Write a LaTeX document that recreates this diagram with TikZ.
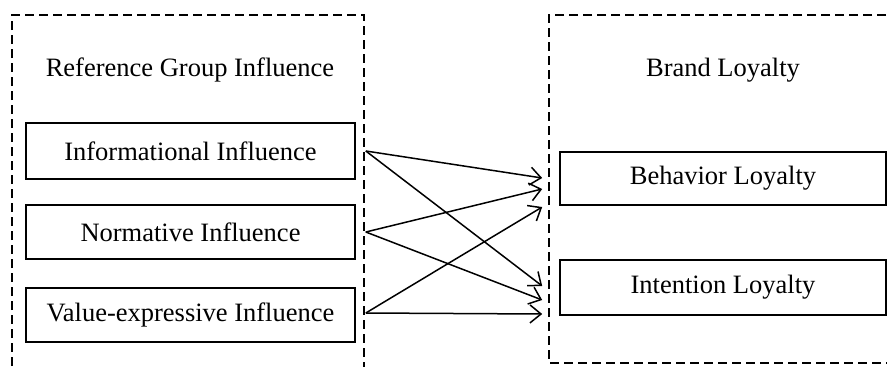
\documentclass[tikz,border=0pt]{standalone}
\usepackage{fontspec}
\setmainfont{Liberation Serif}
\usetikzlibrary{arrows.meta}
\begin{document}
\begin{tikzpicture}[x=1pt,y=-1pt,
  every node/.style={font=\fontsize{26.5}{30}\selectfont, text=black},
  factor/.style={draw, line width=1.6pt, inner sep=0pt},
  groupline/.style={line width=1.5pt, dash pattern=on 9pt off 5pt},
  link/.style={line width=1.5pt, -{Straight Barb[length=11pt,width=18pt,line width=1.5pt]}}]
  \useasboundingbox (0,0) rectangle (887,367);
  \clip (0,0) rectangle (887,367);

  % dashed group frames
  \draw[groupline] (12,380) -- (12,15) -- (364,15) -- (364,380);
  \draw[groupline] (900,15) -- (549,15) -- (549,363) -- (900,363);

  % group titles
  \node (rgi) at (190,70) {Reference Group Influence};
  \node (bl) at (723,70) {Brand Loyalty};

  % dimensions
  \node[factor, minimum width=329pt, minimum height=56pt] (info) at (190.5,151) {Informational Influence};
  \node[factor, minimum width=329pt, minimum height=54pt] (norm) at (190.5,232) {Normative Influence};
  \node[factor, minimum width=329pt, minimum height=54pt] (val) at (190.5,315) {Value-expressive Influence};
  \node[factor, minimum width=326pt, minimum height=53pt] (beh) at (723,178.5) {Behavior Loyalty};
  \node[factor, minimum width=326pt, minimum height=55pt] (int) at (723,287.5) {Intention Loyalty};

  % paths between dimensions (yshift is in page units: negative moves down)
  \draw[link] ([xshift=10pt]info.east) -- ([xshift=-17pt,yshift=0.5pt]beh.west);
  \draw[link] ([xshift=10pt]info.east) -- ([xshift=-17pt,yshift=1.5pt]int.west);
  \draw[link] ([xshift=10pt]norm.east) -- ([xshift=-17pt,yshift=-10.5pt]beh.west);
  \draw[link] ([xshift=10pt]norm.east) -- ([xshift=-17pt,yshift=-12.5pt]int.west);
  \draw[link] ([xshift=10pt,yshift=2pt]val.east) -- ([xshift=-17pt,yshift=-28.5pt]beh.west);
  \draw[link] ([xshift=10pt,yshift=2pt]val.east) -- ([xshift=-17pt,yshift=-26.5pt]int.west);
\end{tikzpicture}
\end{document}
